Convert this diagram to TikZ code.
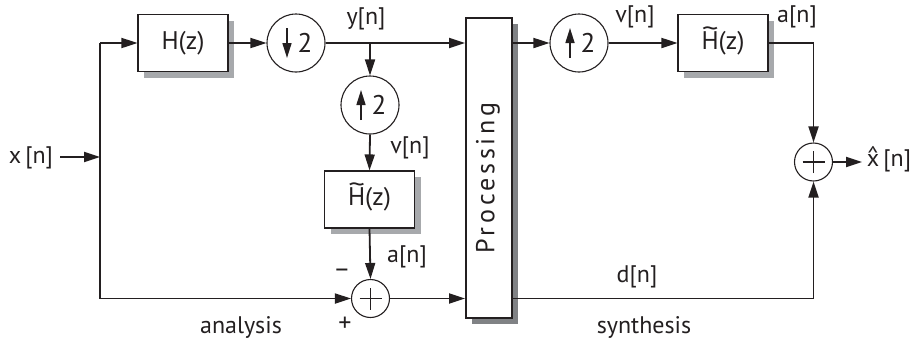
\documentclass[tikz,border=0pt]{standalone}
\usepackage{fontspec}
\usepackage{graphicx}
\setmainfont{PT Sans}
\usetikzlibrary{arrows.meta,shadows}
\definecolor{ink}{HTML}{231F20}
\definecolor{shadowA}{HTML}{A7A9AC}
\definecolor{shadowB}{HTML}{808285}
\newcommand\myHtil{\ooalign{H\cr\hidewidth\raisebox{0.48em}{\scalebox{1.3}[1]{\textasciitilde}}\hidewidth\cr}}
\newcommand\myxhat{\ooalign{x\cr\hidewidth\raisebox{0.12em}{\textasciicircum}\hidewidth\cr}}
\begin{document}
\begin{tikzpicture}[x=1pt,y=-1pt,
  blk/.style={draw=ink, line width=1.1pt, fill=white, minimum width=90pt, minimum height=57pt, inner sep=0pt,
    font=\fontsize{25.5}{28}\selectfont, text=ink,
    drop shadow={shadow xshift=6pt, shadow yshift=-6pt, fill=shadowA, opacity=1}},
  proc/.style={draw=ink, line width=2pt, fill=white, minimum width=46pt, minimum height=300pt, inner sep=0pt,
    drop shadow={shadow xshift=6pt, shadow yshift=-6pt, fill=shadowB, opacity=1}},
  rate/.style={circle, draw=ink, line width=1.1pt, minimum size=58pt, inner sep=0pt},
  sum/.style={circle, draw=ink, line width=1.1pt, minimum size=38pt, inner sep=0pt},
  conn/.style={draw=ink, line width=1.8pt, -{Triangle[length=16pt,width=10pt]}},
  wire/.style={draw=ink, line width=1.8pt},
  glyph/.style={draw=ink, line width=1.6pt, -{Triangle[length=15pt,width=9pt]}},
  lbl/.style={font=\fontsize{24}{27}\selectfont, text=ink, inner sep=0pt},
  plus/.style={draw=ink, line width=1.5pt}]
\useasboundingbox (0,0) rectangle (918,343);

% blocks
\node[blk] (H) at (183,43) {H(z)};
\node[rate] (dn) at (296,43) {};
\node[rate] (up1) at (370,105) {};
\node[blk] (Ht1) at (369.5,199.5) {\myHtil(z)};
\node[sum] (s1) at (370.5,298.5) {};
\node[proc] (P) at (489,168) {};
\node[lbl, rotate=90, font=\fontsize{26}{28}\selectfont\addfontfeature{LetterSpace=14}] (Ptext) at (488,178) {Processing};
\node[rate] (up2) at (579,43) {};
\node[blk] (Ht2) at (723,43) {\myHtil(z)};
\node[sum] (s2) at (813.5,162) {};

% glyphs inside rate changers
\draw[glyph] ([shift={(-9,-15)}]dn.center) -- ([shift={(-9,15)}]dn.center);
\node[lbl, font=\fontsize{27}{28}\selectfont] (dn2) at ([xshift=9]dn.center) {2};
\draw[glyph] ([shift={(-9,15)}]up1.center) -- ([shift={(-9,-15)}]up1.center);
\node[lbl, font=\fontsize{27}{28}\selectfont] (up12) at ([xshift=9]up1.center) {2};
\draw[glyph] ([shift={(-9,15)}]up2.center) -- ([shift={(-9,-15)}]up2.center);
\node[lbl, font=\fontsize{27}{28}\selectfont] (up22) at ([xshift=9]up2.center) {2};

% plus signs inside adders
\draw[plus] ([xshift=-11]s1.center) -- ([xshift=11]s1.center) ([yshift=-11]s1.center) -- ([yshift=11]s1.center);
\draw[plus] ([xshift=-11]s2.center) -- ([xshift=11]s2.center) ([yshift=-11]s2.center) -- ([yshift=11]s2.center);

% coordinates
\coordinate (xin) at (60,157);
\coordinate (split) at (100,157);
\coordinate (tl) at (100,43);
\coordinate (bl) at (100,298.5);
\coordinate (br) at (370,43);
\coordinate (xo) at (862,162);

% connectors
\draw[conn] (xin) -- (split);
\draw[wire] (tl) -- (bl);
\draw[conn] (tl) -- (H.west);
\draw[conn] (H.east) -- (dn.west);
\draw[conn] (dn.east) -- (P.west |- dn.east);
\draw[conn] (br) -- (up1.north);
\draw[conn] (up1.south) -- (Ht1.north);
\draw[conn] (Ht1.south) -- (s1.north);
\draw[conn] (bl) -- (s1.west);
\draw[conn] (s1.east) -- (P.west |- s1.east);
\draw[conn] (P.east |- up2.west) -- (up2.west);
\draw[conn] (up2.east) -- (Ht2.west);
\draw[conn] (Ht2.east) -| (s2.north);
\draw[conn] (P.east |- s1.east) -| (s2.south);
\draw[conn] (s2.east) -- (xo);

% labels
\node[lbl] (lx) at (31,158) {x\,[n]};
\node[lbl] (ly) at (366,19) {y[n]};
\node[lbl] (lv1) at (410,148) {v[n]};
\node[lbl] (la1) at (407,257) {a[n]};
\node[lbl, font=\fontsize{26}{26}\selectfont] (lminus) at (342,273) {–};
\node[lbl, font=\fontsize{26}{26}\selectfont] (lplus) at (345,324) {+};
\node[lbl] (lan) at (241,327) {analysis};
\node[lbl] (lv2) at (635,17) {v[n]};
\node[lbl] (la2) at (797,17) {a[n]};
\node[lbl] (lxh) at (889,161) {\myxhat\,[n]};
\node[lbl] (ld) at (637,277) {d[n]};
\node[lbl] (lsy) at (644,327) {synthesis};
\end{tikzpicture}
\end{document}
